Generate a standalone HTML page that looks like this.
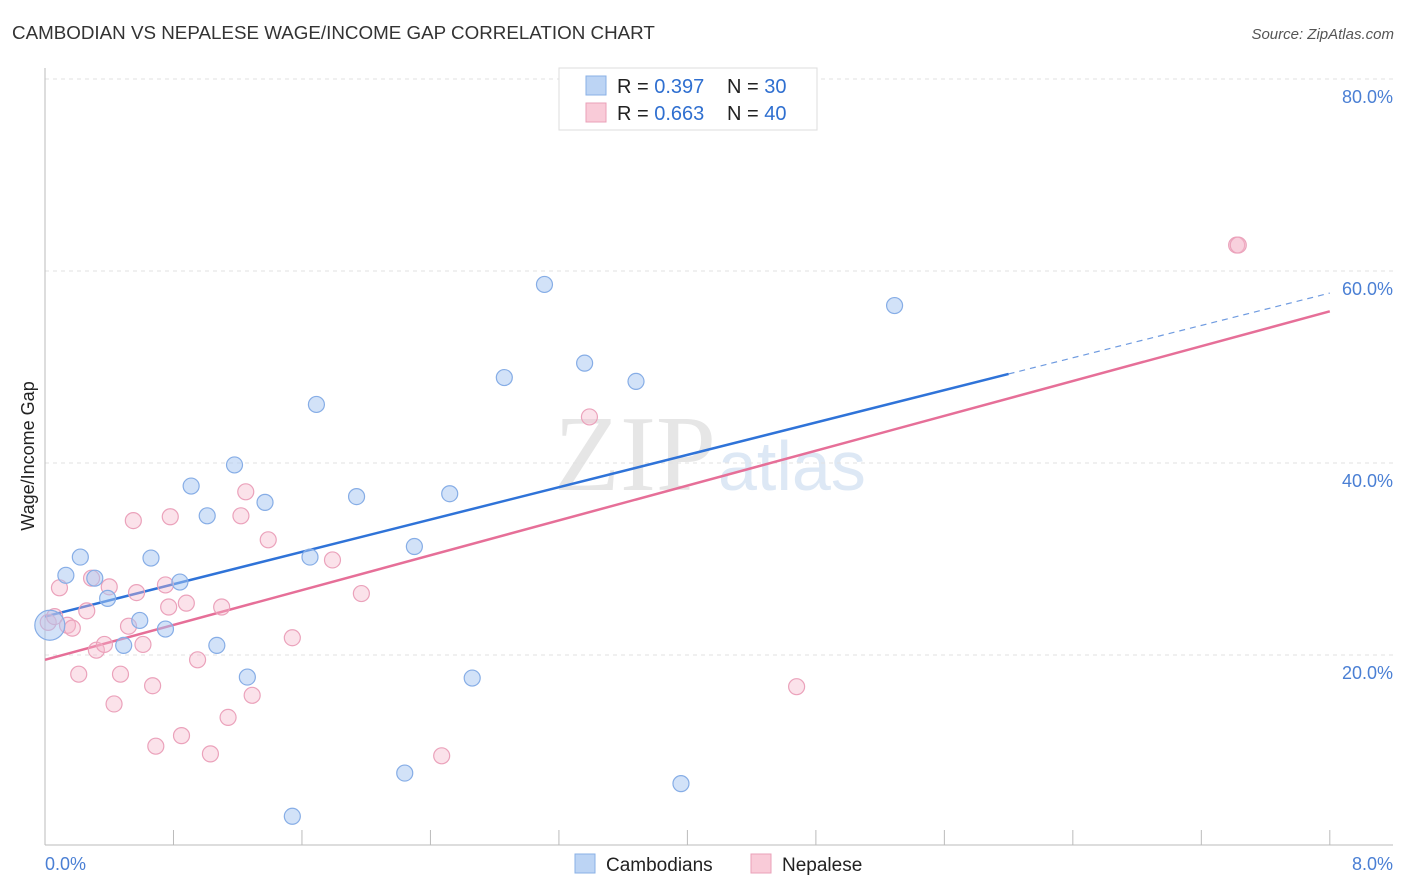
<!DOCTYPE html>
<html><head><meta charset="utf-8"><style>
body{margin:0;background:#fff;font-family:"Liberation Sans",sans-serif}
svg{display:block}
</style></head><body>
<svg id="chart" width="1406" height="892" xmlns="http://www.w3.org/2000/svg">
<text x="12" y="39" font-size="18.8" fill="#333">CAMBODIAN VS NEPALESE WAGE/INCOME GAP CORRELATION CHART</text>
<text x="1394" y="39" font-size="15" fill="#555" font-style="italic" text-anchor="end">Source: ZipAtlas.com</text>
<text x="716" y="490" font-size="108" fill="#e6e6e6" font-family="Liberation Serif,serif" text-anchor="end">ZIP</text>
<text x="718" y="490" font-size="70" fill="#dde8f5">atlas</text>
<g id="grid"></g><g id="axes"></g><g id="trends"></g><g id="points"></g>
<text transform="translate(34,456) rotate(-90)" font-size="18" fill="#222" text-anchor="middle">Wage/Income Gap</text>
<text x="45" y="870" font-size="18" fill="#4a7fd4">0.0%</text>
<text x="1393" y="870" font-size="18" fill="#4a7fd4" text-anchor="end">8.0%</text>
<g>
<rect x="559" y="68" width="258" height="62" fill="#fff" stroke="#ddd"/>
<rect x="586" y="76" width="20" height="19" fill="#bcd4f4" stroke="#8ab0e6"/>
<text x="617" y="93" font-size="20" fill="#222">R = <tspan fill="#2f6fd0">0.397</tspan></text>
<text x="727" y="93" font-size="20" fill="#222">N = <tspan fill="#2f6fd0">30</tspan></text>
<rect x="586" y="103" width="20" height="19" fill="#f9cbd8" stroke="#eaa0b8"/>
<text x="617" y="120" font-size="20" fill="#222">R = <tspan fill="#2f6fd0">0.663</tspan></text>
<text x="727" y="120" font-size="20" fill="#222">N = <tspan fill="#2f6fd0">40</tspan></text>
</g>
<g>
<rect x="575" y="854" width="20" height="19" fill="#bcd4f4" stroke="#8ab0e6"/>
<text x="606" y="871" font-size="19" fill="#222">Cambodians</text>
<rect x="751" y="854" width="20" height="19" fill="#f9cbd8" stroke="#eaa0b8"/>
<text x="782" y="871" font-size="19" fill="#222">Nepalese</text>
</g>
</svg>
<script>
const yTicks=[20,40,60,80];
const xTicks=[0,0.8,1.6,2.4,3.2,4,4.8,5.6,6.4,7.2,8];
const blueX=[0.03,0.13,0.22,0.31,0.39,0.49,0.59,0.66,0.75,0.84,0.91,1.01,1.07,1.18,1.26,1.37,1.54,1.65,1.69,1.94,2.24,2.30,2.52,2.66,2.86,3.11,3.36,3.68,3.96,5.29];
const blueY=[23.1,28.3,30.2,28.0,25.9,21.0,23.6,30.1,22.7,27.6,37.6,34.5,21.0,39.8,17.7,35.9,3.2,30.2,46.1,36.5,7.7,31.3,36.8,17.6,48.9,58.6,50.4,48.5,6.6,56.4];
const pinkX=[0.02,0.06,0.09,0.14,0.17,0.21,0.26,0.29,0.32,0.37,0.40,0.43,0.47,0.52,0.55,0.57,0.61,0.67,0.69,0.75,0.77,0.78,0.85,0.88,0.95,1.03,1.10,1.14,1.22,1.25,1.29,1.39,1.54,1.79,1.97,2.47,3.39,4.68,7.42,7.43];
const pinkY=[23.4,24.0,27.0,23.1,22.8,18.0,24.6,28.0,20.5,21.1,27.1,14.9,18.0,23.0,34.0,26.5,21.1,16.8,10.5,27.3,25.0,34.4,11.6,25.4,19.5,9.7,25.0,13.5,34.5,37.0,15.8,32.0,21.8,29.9,26.4,9.5,44.8,16.7,62.7,62.7];
const blueTrend=[24.0,57.7];
const blueSolidEnd=6.0;
const pinkTrend=[19.5,55.8];
const NS='http://www.w3.org/2000/svg';
const sx=v=>45+v*160.6;
const sy=v=>847-v*9.6;
function mk(tag,attrs,parent){const e=document.createElementNS(NS,tag);for(const k in attrs)e.setAttribute(k,attrs[k]);document.getElementById(parent).appendChild(e);return e;}
yTicks.forEach(t=>{
 const l=mk('line',{x1:45,x2:1393,y1:sy(t),y2:sy(t),stroke:'#e2e2e2','stroke-dasharray':'4,4'},'grid');
 
 
 const tx=mk('text',{x:1393,y:sy(t)+24,'font-size':18,fill:'#4a7fd4','text-anchor':'end'},'grid');
 tx.textContent=t.toFixed(1)+'%';
 
 
});
let a=mk('line',{x1:45,x2:45,y1:68,y2:845,stroke:'#bbb'},'axes');


a=mk('line',{x1:45,x2:1393,y1:845,y2:845,stroke:'#bbb'},'axes');


xTicks.forEach(t=>{
 const l=mk('line',{x1:sx(t),x2:sx(t),y1:830,y2:845,stroke:'#bbb'},'axes');
 
 
});
const bAt=x=>blueTrend[0]+(blueTrend[1]-blueTrend[0])*x/8;
let t=mk('line',{x1:sx(0),y1:sy(bAt(0)),x2:sx(blueSolidEnd),y2:sy(bAt(blueSolidEnd)),stroke:'#2f73d8','stroke-width':2.5},'trends');


t=mk('line',{x1:sx(blueSolidEnd),y1:sy(bAt(blueSolidEnd)),x2:sx(8),y2:sy(bAt(8)),stroke:'#6f9be0','stroke-width':1.2,'stroke-dasharray':'6,5'},'trends');


t=mk('line',{x1:sx(0),y1:sy(pinkTrend[0]),x2:sx(8),y2:sy(pinkTrend[1]),stroke:'#e66f98','stroke-width':2.5},'trends');


pinkX.forEach((x,i)=>{
 const c=mk('circle',{cx:sx(x),cy:sy(pinkY[i]),r:8,fill:'rgba(246,182,203,0.4)',stroke:'#eba2bb','stroke-width':1.2},'points');
 
 
});
blueX.forEach((x,i)=>{
 const c=mk('circle',{cx:sx(x),cy:sy(blueY[i]),r:i===0?15:8,fill:'rgba(165,198,242,0.5)',stroke:'#86ade6','stroke-width':1.2},'points');
 
 
});
</script>
</body></html>
